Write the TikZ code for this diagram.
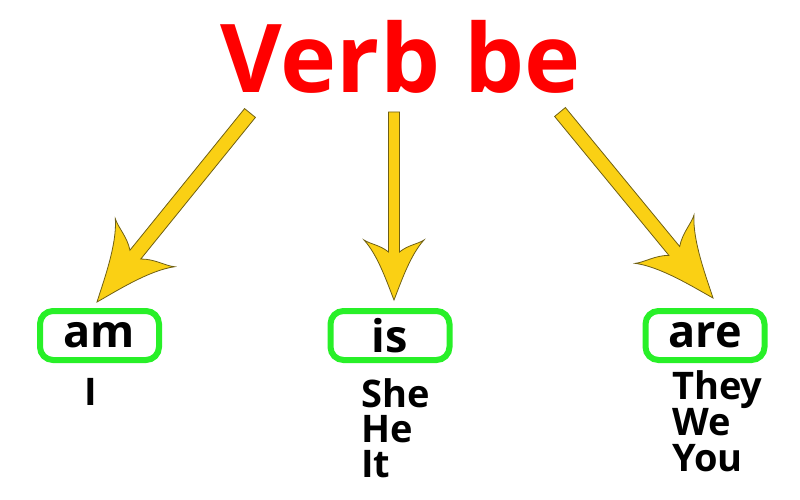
\documentclass[tikz,border=0pt]{standalone}
\usepackage{fontspec}
\setmainfont{Open Sans}
\usetikzlibrary{calc}

\definecolor{titlered}{RGB}{255,0,0}
\definecolor{boxgreen}{RGB}{40,240,40}
\definecolor{arrowgold}{RGB}{250,208,20}
\definecolor{arrowedge}{RGB}{110,95,20}

% block arrow from #1 to #2, head scaled by #3
\newcommand{\bearrow}[3]{%
  \draw[goldarrow] let \p1=($(#2)-(#1)$), \n1={atan2(\y1,\x1)}, \n2={veclen(\x1,\y1)} in
    [shift={(#1)}, rotate=\n1]
    (0pt,{-5.5pt*#3}) -- ({\n2-48pt*#3},{-5.5pt*#3})
    .. controls ({\n2-55pt*#3},{-14pt*#3}) and ({\n2-56pt*#3},{-24pt*#3}) .. ({\n2-60pt*#3},{-30pt*#3})
    .. controls ({\n2-45pt*#3},{-16pt*#3}) and ({\n2-15pt*#3},{-6pt*#3}) .. (\n2,0pt)
    .. controls ({\n2-15pt*#3},{6pt*#3}) and ({\n2-45pt*#3},{16pt*#3}) .. ({\n2-60pt*#3},{30pt*#3})
    .. controls ({\n2-56pt*#3},{24pt*#3}) and ({\n2-55pt*#3},{14pt*#3}) .. ({\n2-48pt*#3},{5.5pt*#3})
    -- (0pt,{5.5pt*#3}) -- cycle;}

\begin{document}
\begin{tikzpicture}[x=1pt,y=-1pt,
    title/.style={font=\fontsize{95}{95}\selectfont\bfseries, text=titlered, inner sep=0},
    verbbox/.style={draw=boxgreen, line width=6pt, rounded corners=13pt,
      minimum width=119pt, minimum height=49pt, inner sep=0,
      font=\fontsize{45}{45}\selectfont\bfseries},
    pronoun/.style={font=\fontsize{38}{38}\selectfont\bfseries, inner sep=0,
      text height=28pt, text depth=7pt, anchor=base west},
    goldarrow/.style={fill=arrowgold, draw=arrowedge, line width=0.8pt}]

  \useasboundingbox (0,0) rectangle (800,500);

  % Title
  \node[title, anchor=base] (verb) at (401,93) {Verb be};

  % Arrow ends
  \coordinate (s1) at (250,113);
  \coordinate (t1) at (97,302);
  \coordinate (s2) at (394,112);
  \coordinate (t2) at (394,300);
  \coordinate (s3) at (560,112);
  \coordinate (t3) at (713,298);

  % Draw the arrows
  \bearrow{s1}{t1}{1.27}
  \bearrow{s2}{t2}{1}
  \bearrow{s3}{t3}{1.27}

  % Verb forms
  \node[verbbox] (am)  at (99.5,335.5) {am};
  \node[verbbox] (is)  at (390,335.5)  {is};
  \node[verbbox] (are) at (705,335.5)  {are};

  % Pronouns
  \node[pronoun] (i)    at (84,405)  {I};
  \node[pronoun] (she)  at (361,407) {She};
  \node[pronoun] (he)   at (361,442) {He};
  \node[pronoun] (it)   at (361,477) {It};
  \node[pronoun] (they) at (672,399) {They};
  \node[pronoun] (we)   at (672,435) {We};
  \node[pronoun] (you)  at (672,471) {You};

\end{tikzpicture}
\end{document}
